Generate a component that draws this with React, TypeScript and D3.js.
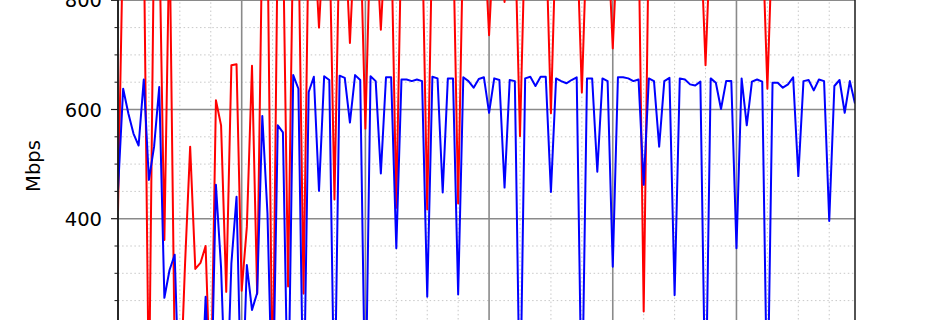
import React from "react";
import * as d3 from "d3";

const H = 930;
const D = 30;

const blueMbps: number[] = [
  452, 638, 593, 556, 534, 655, 471, 532, 641, 255,
  306, 334, D, D, D, D, D, 257, D, 462,
  310, D, 318, 440, D, 315, 233, 264, 588, 410,
  D, 571, 558, D, 663, 638, D, 632, 660, 451,
  661, 654, D, 662, 658, 576, 663, 654, D, 661,
  652, 483, 659, 659, 346, 655, 655, 652, 655, 652,
  257, 660, 657, 448, 657, 657, 261, 659, 652, 640,
  656, 659, 594, 657, 654, 457, 654, 652, D, 657,
  660, 643, 660, 660, 449, 657, 652, 648, 654, 659,
  D, 657, 657, 486, 657, 652, 312, 659, 659, 657,
  652, 655, 462, 657, 652, 532, 652, 658, 260, 657,
  655, 646, 644, 651, D, 657, 649, 601, 652, 652,
  346, 657, 571, 651, 655, 651, D, 649, 649, 640,
  646, 659, 478, 652, 654, 635, 655, 652, 396, 643,
  654, 594, 652, 611,
];

const redMbps: number[] = [
  415, H, H, H, H, H, 60, H, H, 361,
  H, 150, 60, 315, 532, 308, 319, 350, 60, 617,
  571, 266, 681, 683, 268, 385, 680, 262, H, H,
  60, H, H, 276, H, H, 263, H, H, 750,
  H, H, 435, H, H, 722, H, H, 565, H,
  H, 746, H, H, 420, H, H, H, H, H,
  417, H, H, H, H, H, 428, H, H, H,
  H, H, 736, H, H, 797, H, H, 551, H,
  H, H, H, H, 593, H, H, H, H, H,
  631, H, H, H, H, H, 712, H, H, H,
  H, H, 230, H, H, H, H, H, H, H,
  H, H, H, H, 681, H, H, H, H, H,
  H, H, H, H, H, H, 638, H, H, H,
  H, H, H, H, H, H, H, H, H, H,
  H, H, H, H,
];

const yMajorTicks: number[] = [200, 400, 600, 800];
const yLabelTicks: number[] = [400, 600, 800];
const yMinorTicks: number[] = [250, 300, 350, 450, 500, 550, 650, 700, 750];
const xMajorStep = 24;
const xMinorStep = 6;
const yAxisLabel = "Mbps";

export default function App() {
  const W = 950;
  const HH = 320;
  const left = 118;
  const right = 855;
  const n = blueMbps.length;
  const x = d3.scaleLinear().domain([0, n - 1]).range([left, right]);
  const y = d3.scaleLinear().domain([400, 800]).range([218.7, 0.3]);

  const xMajor = d3.range(0, n, xMajorStep);
  const xMinor = d3.range(0, n, xMinorStep).filter((v) => v % xMajorStep !== 0);

  const line = d3
    .line<number>()
    .x((_, i) => x(i))
    .y((d) => y(d));

  const bottom = y(0);
  const font = "'DejaVu Sans', sans-serif";

  return (
    <svg
      width={W}
      height={HH}
      style={{ position: "absolute", left: 0, top: 0, overflow: "hidden", background: "#fff" }}
    >
      <defs>
        <clipPath id="plotclip">
          <rect x={left} y={-600} width={right - left} height={1200} />
        </clipPath>
      </defs>
      <rect x={0} y={0} width={W} height={HH} fill="#fff" />
      {yMinorTicks.map((t) => (
        <line key={"ym" + t} x1={left} x2={right} y1={y(t)} y2={y(t)}
          stroke="#c8c8c8" strokeWidth={1} strokeDasharray="1.5,2.6" />
      ))}
      {xMinor.map((t) => (
        <line key={"xm" + t} x1={x(t)} x2={x(t)} y1={-10} y2={bottom}
          stroke="#c8c8c8" strokeWidth={1} strokeDasharray="1.5,2.6" />
      ))}
      {yMajorTicks.map((t) => (
        <line key={"yM" + t} x1={left} x2={right} y1={y(t)} y2={y(t)}
          stroke="#8a8a8a" strokeWidth={1.6} />
      ))}
      {xMajor.map((t) => (
        <line key={"xM" + t} x1={x(t)} x2={x(t)} y1={-10} y2={bottom}
          stroke="#8a8a8a" strokeWidth={1.6} />
      ))}
      <g clipPath="url(#plotclip)">
        <path d={line(redMbps) || ""} fill="none" stroke="#ff0000" strokeWidth={2} strokeLinejoin="round" />
        <path d={line(blueMbps) || ""} fill="none" stroke="#0000ff" strokeWidth={2} strokeLinejoin="round" />
      </g>
      <line x1={left} x2={left} y1={-10} y2={bottom} stroke="#1a1a1a" strokeWidth={1.8} />
      <line x1={right} x2={right} y1={-10} y2={bottom} stroke="#1a1a1a" strokeWidth={1.5} />
      {yMajorTicks.map((t) => (
        <line key={"tM" + t} x1={left - 7} x2={left} y1={y(t)} y2={y(t)} stroke="#1a1a1a" strokeWidth={1.2} />
      ))}
      {yMinorTicks.map((t) => (
        <line key={"tm" + t} x1={left - 3.5} x2={left} y1={y(t)} y2={y(t)} stroke="#1a1a1a" strokeWidth={1} />
      ))}
      {yLabelTicks.map((t) => (
        <text key={"l" + t} x={102} y={y(t)} dy="0.36em" textAnchor="end"
          fontFamily={font} fontSize={19.5} fill="#000">{t}</text>
      ))}
      <text transform={`translate(40,166) rotate(-90)`} textAnchor="middle"
        fontFamily={font} fontSize={19.5} fill="#000">{yAxisLabel}</text>
    </svg>
  );
}
